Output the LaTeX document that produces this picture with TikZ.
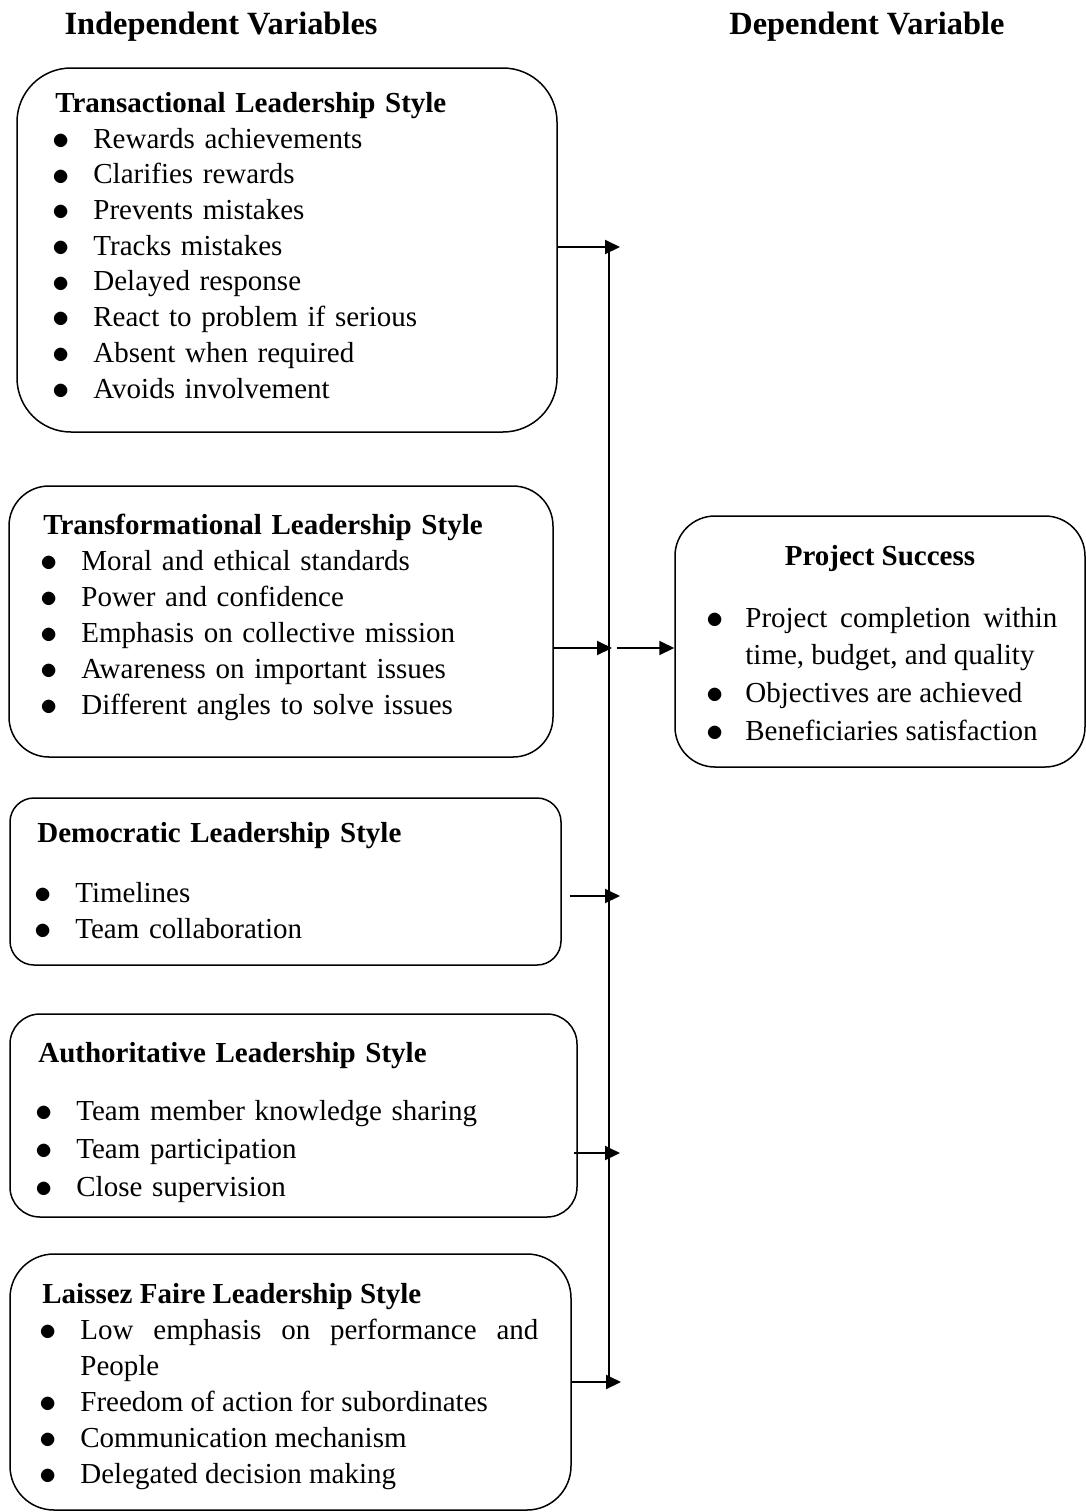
\documentclass[tikz,border=0pt]{standalone}
\usepackage{fontspec}
\setmainfont{Liberation Serif}
\usetikzlibrary{arrows.meta,positioning}

\newlength{\bulw}
\setlength{\bulw}{19pt}
\newcommand{\itm}[1]{\par\noindent\hangindent=\bulw\hangafter=1\makebox[\bulw][l]{\hspace{-1.5pt}\raisebox{-0.6pt}{\fontsize{16}{16}\selectfont$\bullet$}}#1}
\newcommand{\hd}[1]{\rule{0pt}{12pt}\textbf{#1}}

\begin{document}
\begin{tikzpicture}
  [
    x=0.5pt, y=-0.5pt,
    Box/.style={draw=black, line width=0.75pt, inner sep=0pt},
    List/.style={anchor=north west, inner sep=0pt, text width=#1, font=\fontsize{14.5}{18}\selectfont},
    Head/.style={anchor=base, inner sep=0pt, font=\fontsize{16.2}{18}\selectfont\bfseries},
    Arrow/.style={line width=1pt, -{Triangle[length=7.5pt,width=7pt]}},
    Bus/.style={line width=0.8pt}
  ]
  \useasboundingbox (0,0) rectangle (1086,1512);

  % Headings
  \node[Head] (indep) at (221,34) {Independent Variables};
  \node[Head] (dep) at (867,34) {Dependent Variable};

  % Boxes
  \node[Box, minimum width=270pt, minimum height=182pt, rounded corners=27pt] (trans) at (287,250) {};
  \node[Box, minimum width=272pt, minimum height=135.5pt, rounded corners=20pt] (transf) at (281,621.5) {};
  \node[Box, minimum width=275.5pt, minimum height=83.5pt, rounded corners=12pt] (demo) at (285.5,881.5) {};
  \node[Box, minimum width=283.5pt, minimum height=101.5pt, rounded corners=15pt] (auth) at (293.5,1115.5) {};
  \node[Box, minimum width=280.5pt, minimum height=128pt, rounded corners=22pt] (laissez) at (290.5,1382) {};
  \node[Box, minimum width=205pt, minimum height=125.5pt, rounded corners=20pt] (succ) at (880,641.5) {};

  % Texts
  \node[List=245pt, font=\fontsize{14.5}{17.85}\selectfont] (transtext) at (55,88) {\hd{Transactional Leadership Style}
    \itm{Rewards achievements}
    \itm{Clarifies rewards}
    \itm{Prevents mistakes}
    \itm{Tracks mistakes}
    \itm{Delayed response}
    \itm{React to problem if serious}
    \itm{Absent when required}
    \itm{Avoids involvement}};
  \node[List=250pt] (transftext) at (43,510) {\hd{Transformational Leadership Style}
    \itm{Moral and ethical standards}
    \itm{Power and confidence}
    \itm{Emphasis on collective mission}
    \itm{Awareness on important issues}
    \itm{Different angles to solve issues}};
  \node[List=250pt] (demotext) at (37,818) {\hd{Democratic Leadership Style}\par\vspace{12pt}
    \itm{Timelines}
    \itm{Team collaboration}};
  \node[List=250pt, font=\fontsize{14.5}{19}\selectfont] (authtext) at (38,1038) {\hd{Authoritative Leadership Style}\par\vspace{10pt}
    \itm{Team member knowledge sharing}
    \itm{Team participation}
    \itm{Close supervision}};
  \node[List=248pt, align=justify] (laissezteext) at (42,1279) {\hd{Laissez Faire Leadership Style}
    \itm{Low emphasis on performance and\linebreak People}
    \itm{Freedom of action for subordinates}
    \itm{Communication mechanism}
    \itm{Delegated decision making}};
  \node[anchor=base, inner sep=0pt, font=\fontsize{14.5}{18}\selectfont\bfseries] (succtitle) at (880,565) {Project Success};
  \node[List=174pt, align=justify, font=\fontsize{14.5}{18.85}\selectfont] (succtext) at (709,589) {\setlength{\bulw}{18pt}%
    \itm{\rule{0pt}{12pt}Project completion within\linebreak time, budget, and quality}
    \itm{Objectives are achieved}
    \itm{Beneficiaries satisfaction}};

  % Connectors
  \coordinate (bustop) at (609,247);
  \coordinate (busbot) at (609,1382);
  \draw[Bus] (bustop) -- (busbot);
  \coordinate (a1) at (620,247);
  \draw[Arrow] (trans.east |- a1) -- (a1);
  \coordinate (a2) at (612,648);
  \draw[Arrow] (transf.east |- a2) -- (a2);
  \coordinate (a2s) at (617,648);
  \draw[Arrow] (a2s) -- (succ.west |- a2s);
  \coordinate (a3) at (620,896);
  \draw[Arrow] ([xshift=4pt]demo.east |- a3) -- (a3);
  \coordinate (a4) at (620,1153);
  \draw[Arrow] ([xshift=-2pt]auth.east |- a4) -- (a4);
  \coordinate (a5) at (621,1382);
  \draw[Arrow] (laissez.east |- a5) -- (a5);
\end{tikzpicture}
\end{document}
